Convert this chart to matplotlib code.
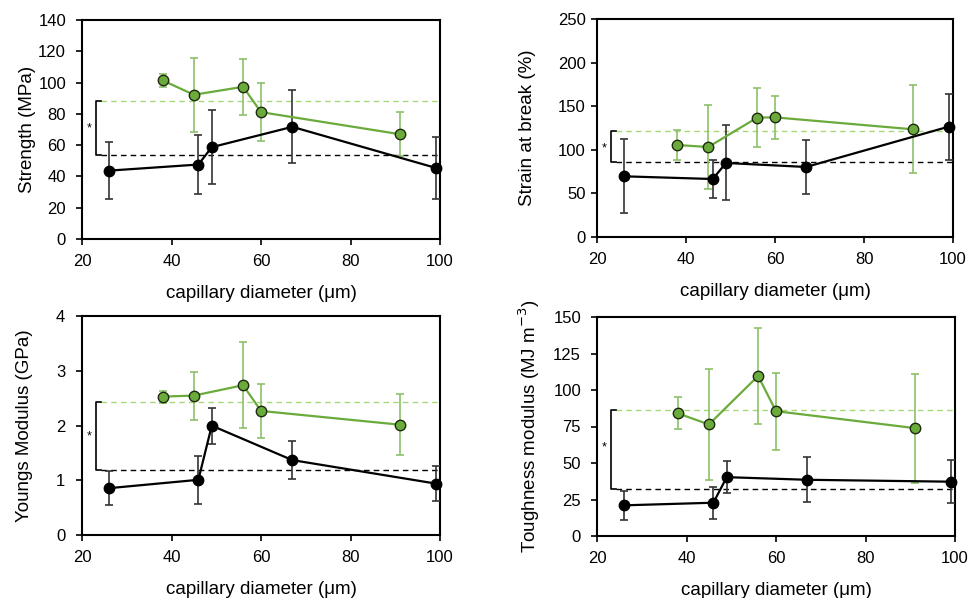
import matplotlib
matplotlib.use("Agg")
import matplotlib.pyplot as plt
import numpy as np

plt.rcParams['font.family'] = ['Liberation Sans', 'DejaVu Sans']

# capillary diameters
x_black = [26, 46, 49, 67, 99]
x_green = [38, 45, 56, 60, 91]

# Strength (MPa)
str_black = [43.7, 47.6, 58.7, 71.7, 45.5]
str_black_err = [18, 19, 23.7, 23.3, 20]
str_green = [101.4, 92.2, 97.3, 81.1, 67.0]
str_green_err = [4, 23.6, 18, 18.7, 14.2]
str_means = [53.6, 87.9]  # black, green

# Strain at break (%)
stn_black = [69.6, 66.5, 84.9, 80.3, 126.5]
stn_black_err = [42.5, 22, 43, 30.6, 38]
stn_green = [105.5, 103.2, 136.9, 137.2, 123.5]
stn_green_err = [17.6, 48, 33.5, 25, 50.6]
stn_means = [86.0, 121.2]

# Youngs Modulus (GPa)
ym_black = [0.855, 1.008, 1.997, 1.368, 0.94]
ym_black_err = [0.31, 0.44, 0.33, 0.345, 0.32]
ym_green = [2.528, 2.546, 2.736, 2.266, 2.015]
ym_green_err = [0.11, 0.44, 0.79, 0.5, 0.555]
ym_means = [1.19, 2.424]

# Toughness modulus (MJ m^-3)
tm_black = [21.0, 22.8, 40.3, 38.5, 37.2]
tm_black_err = [10, 11, 11, 15.4, 14.6]
tm_green = [84.1, 76.4, 109.6, 85.5, 73.9]
tm_green_err = [11, 38, 32.8, 26.4, 37.3]
tm_means = [31.9, 86.2]

W, H = 969, 598
fig = plt.figure(figsize=(W / 100, H / 100), dpi=100)

GREEN = '#6aab3b'
GREEN_ERR = '#8cc06a'
GREEN_DASH = '#a5d978'


def make_ax(left, top, right, bottom):
    return fig.add_axes([left / W, 1 - bottom / H, (right - left) / W, (bottom - top) / H])


# (axes box in px), ylabel centre x px, y tick pad
panels = [
    ((82, 20, 440, 239), 27, 7.5, str_black, str_black_err, str_green, str_green_err, str_means,
     (0, 140), np.arange(0, 141, 20), 'Strength (MPa)', 70.6),
    ((597, 19, 953, 237), 528, 4.0, stn_black, stn_black_err, stn_green, stn_green_err, stn_means,
     (0, 250), np.arange(0, 251, 50), 'Strain at break (%)', 102),
    ((82, 316, 440, 535), 25, 8.0, ym_black, ym_black_err, ym_green, ym_green_err, ym_means,
     (0, 4), np.arange(0, 5, 1), 'Youngs Modulus (GPa)', 1.8),
    ((597, 317, 955, 536), 529, 7.5, tm_black, tm_black_err, tm_green, tm_green_err, tm_means,
     (0, 150), np.arange(0, 151, 25), 'Toughness modulus (MJ m$^{-3}$)', 61),
]

for box, ylx, ypad, yb, eb, yg, eg, means, ylim, yticks, ylabel, star_y in panels:
    ax = make_ax(*box)
    ax.set_xlim(20, 100)
    ax.set_ylim(*ylim)
    ax.set_xticks([20, 40, 60, 80, 100])
    ax.set_yticks(yticks)
    ax.tick_params(direction='out', length=4, width=1.2, labelsize=12)
    ax.tick_params(axis='x', pad=7)
    ax.tick_params(axis='y', pad=ypad)
    for s in ax.spines.values():
        s.set_linewidth(1.5)
    # mean lines
    ax.axhline(means[1], xmin=(24.3 - 20) / 80, xmax=1, color=GREEN_DASH, ls='--', lw=1.0, dashes=(4, 3), zorder=1)
    ax.axhline(means[0], xmin=(24.3 - 20) / 80, xmax=1, color='black', ls='--', lw=1.0, dashes=(4, 3), zorder=1)
    # bracket
    ax.plot([24.3, 23.1, 23.1, 24.3], [means[1], means[1], means[0], means[0]],
            color='black', lw=1.2, clip_on=False, zorder=2)
    ax.text(21.6, star_y, '*', ha='center', va='center', fontsize=9)
    # green series
    ax.errorbar(x_green, yg, yerr=eg, fmt='none', ecolor=GREEN_ERR, elinewidth=1.2, capsize=3, capthick=1.2, zorder=3)
    ax.plot(x_green, yg, '-', color=GREEN, lw=1.6, zorder=4)
    ax.plot(x_green, yg, 'o', ms=7.5, mfc=GREEN, mec='#1e2a10', mew=1.0, zorder=5, clip_on=False)
    # black series
    ax.errorbar(x_black, yb, yerr=eb, fmt='none', ecolor='#333333', elinewidth=1.2, capsize=3, capthick=1.2, zorder=3)
    ax.plot(x_black, yb, '-', color='black', lw=1.6, zorder=4)
    ax.plot(x_black, yb, 'o', ms=7.5, mfc='black', mec='black', zorder=5, clip_on=False)
    ax.set_xlabel('capillary diameter (μm)', fontsize=13.5, labelpad=11)
    ax.set_ylabel(ylabel, fontsize=13.5, va='center')
    left, top, right, bottom = box
    ax.yaxis.set_label_coords((ylx - left) / (right - left), 0.5)

fig.savefig('out.png', dpi=100)
